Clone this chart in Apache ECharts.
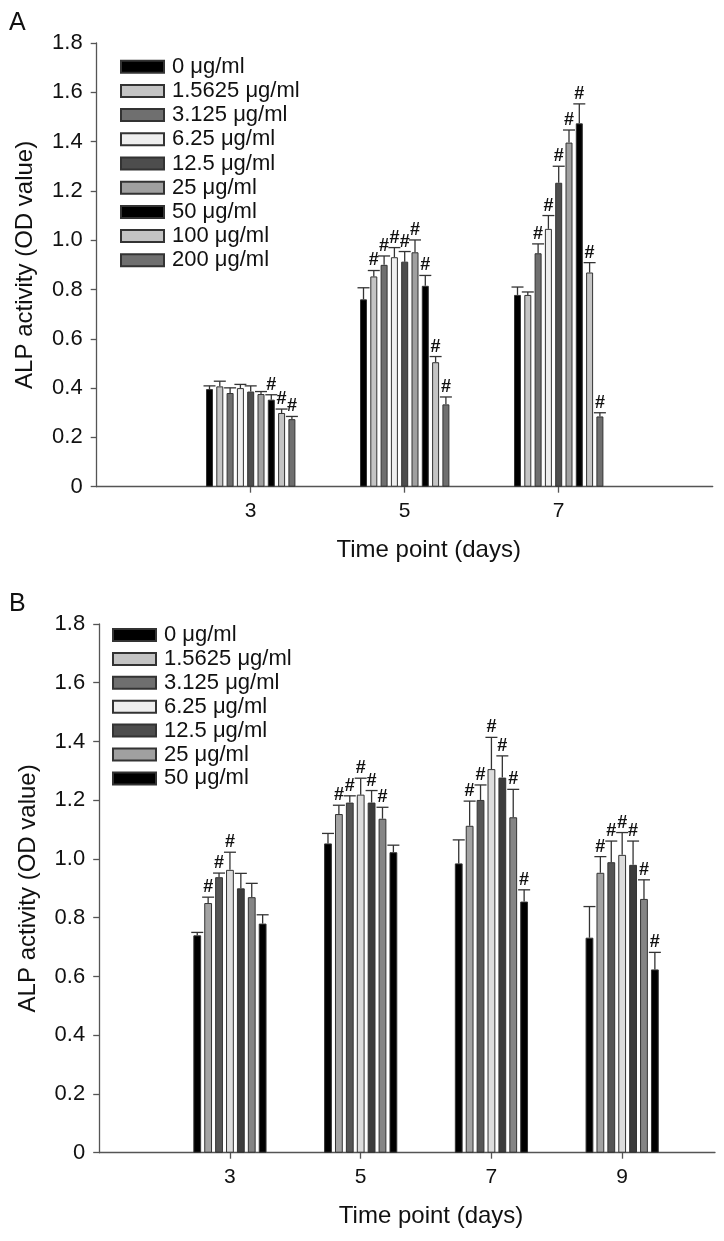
<!DOCTYPE html>
<html><head><meta charset="utf-8">
<script src="https://cdn.jsdelivr.net/npm/echarts@6/dist/echarts.min.js"></script>
<style>html,body{margin:0;padding:0;background:#fff}#c{width:724px;height:1241px}</style>
</head><body><div id="c"></div>
<script>
// ---------- Panel A ----------
const daysA = [3, 5, 7];
const concA = ['0 μg/ml','1.5625 μg/ml','3.125 μg/ml','6.25 μg/ml','12.5 μg/ml','25 μg/ml','50 μg/ml','100 μg/ml','200 μg/ml'];
const meanA = [
  [0.396, 0.760, 0.778],
  [0.407, 0.853, 0.778],
  [0.380, 0.900, 0.947],
  [0.400, 0.931, 1.046],
  [0.386, 0.913, 1.233],
  [0.376, 0.951, 1.396],
  [0.353, 0.815, 1.474],
  [0.299, 0.505, 0.869],
  [0.274, 0.334, 0.285]
];
const errA = [
  [0.013, 0.047, 0.032],
  [0.021, 0.024, 0.012],
  [0.021, 0.036, 0.038],
  [0.015, 0.039, 0.054],
  [0.023, 0.041, 0.067],
  [0.010, 0.050, 0.051],
  [0.020, 0.042, 0.079],
  [0.016, 0.023, 0.040],
  [0.011, 0.030, 0.015]
];
const sigA = [
  [0,0,0],[0,1,0],[0,1,1],[0,1,1],[0,1,1],[0,1,1],[1,1,1],[1,1,1],[1,1,1]
];
const colorsA = ['#000000','#c4c4c4','#6f6f6f','#eeeeee','#4d4d4d','#a0a0a0','#000000','#c4c4c4','#6f6f6f'];

// ---------- Panel B ----------
const daysB = [3, 5, 7, 9];
const concB = ['0 μg/ml','1.5625 μg/ml','3.125 μg/ml','6.25 μg/ml','12.5 μg/ml','25 μg/ml','50 μg/ml'];
const meanB = [
  [0.740, 1.053, 0.985, 0.732],
  [0.850, 1.153, 1.113, 0.953],
  [0.938, 1.192, 1.201, 0.989],
  [0.963, 1.219, 1.306, 1.014],
  [0.900, 1.192, 1.277, 0.980],
  [0.870, 1.137, 1.142, 0.864],
  [0.780, 1.023, 0.855, 0.624]
];
const errB = [
  [0.010, 0.034, 0.080, 0.106],
  [0.020, 0.030, 0.084, 0.055],
  [0.014, 0.023, 0.051, 0.072],
  [0.060, 0.056, 0.108, 0.076],
  [0.051, 0.041, 0.074, 0.081],
  [0.047, 0.039, 0.095, 0.065],
  [0.030, 0.024, 0.040, 0.058]
];
const sigB = [
  [0,0,0,0],[1,1,1,1],[1,1,1,1],[1,1,1,1],[0,1,1,1],[0,1,1,1],[0,0,1,1]
];
const colorsB = ['#000000','#a3a3a3','#555555','#dcdcdc','#3c3c3c','#858585','#000000'];

const yTitle = 'ALP activity (OD value)';
const xTitle = 'Time point (days)';

const FONT = '"Liberation Sans", Arial, sans-serif';
const AXC = '#555';

function panelSeries(idx, days, conc, mean, err, sig, colors, barW, gapPx) {
  const out = [];
  const gapPct = (gapPx / barW * 100) + '%';
  conc.forEach((name, i) => {
    out.push({
      type: 'bar', name, xAxisIndex: idx, yAxisIndex: idx,
      barWidth: barW, barGap: gapPct, animation: false,
      itemStyle: { color: colors[i], borderColor: '#333', borderWidth: 1 },
      emphasis: { disabled: true },
      data: days.map((d, j) => [d, mean[i][j]])
    });
  });
  const items = [];
  conc.forEach((name, i) => days.forEach((d, j) => items.push([d, mean[i][j], err[i][j], sig[i][j], i])));
  const n = conc.length;
  out.push({
    type: 'custom', xAxisIndex: idx, yAxisIndex: idx, z: 5, animation: false,
    data: items, encode: { x: 0, y: 1 },
    renderItem(params, api) {
      const d = api.value(0), m = api.value(1), e = api.value(2), s = api.value(3), i = api.value(4);
      const c = api.coord([d, m]);
      const t = api.coord([d, m + e]);
      const total = n * barW + (n - 1) * gapPx;
      const x = c[0] - total / 2 + barW / 2 + i * (barW + gapPx);
      const children = [
        { type: 'line', shape: { x1: x, y1: c[1], x2: x, y2: t[1] }, style: { stroke: '#333', lineWidth: 1.3 } },
        { type: 'line', shape: { x1: x - 6, y1: t[1], x2: x + 6, y2: t[1] }, style: { stroke: '#333', lineWidth: 1.3 } }
      ];
      if (s) children.push({ type: 'text', x: x, y: t[1] - 1,
        style: { text: '#', fill: '#111', font: 'bold 18px "Liberation Sans", Arial', align: 'center', verticalAlign: 'bottom' } });
      return { type: 'group', children };
    }
  });
  return out;
}

function xAxisCfg(idx, max, ticks) {
  return {
    type: 'value', gridIndex: idx, min: 1, max: max,
    name: xTitle, nameLocation: 'middle', nameGap: 52,
    nameTextStyle: { fontSize: 24, fontFamily: FONT, color: '#111', padding: [0, 0, 0, 48] },
    axisLine: { show: true, lineStyle: { color: AXC, width: 1.3 } },
    axisTick: { show: true, length: 6, customValues: ticks, lineStyle: { color: AXC, width: 1.3 } },
    axisLabel: { customValues: ticks, margin: 14, fontSize: 21, fontFamily: FONT, color: '#111' },
    splitLine: { show: false }
  };
}
function yAxisCfg(idx) {
  return {
    type: 'value', gridIndex: idx, min: 0, max: 1.8, interval: 0.2,
    name: yTitle, nameLocation: 'middle', nameGap: 59, nameRotate: 90,
    nameTextStyle: { fontSize: 24, fontFamily: FONT, color: '#111' },
    axisLine: { show: true, lineStyle: { color: AXC, width: 1.3 } },
    axisTick: { show: true, length: 6, lineStyle: { color: AXC, width: 1.3 } },
    axisLabel: { margin: 14, fontSize: 22, fontFamily: FONT, color: '#111',
      formatter: v => (v === 0 ? '0' : v.toFixed(1)) },
    splitLine: { show: false }
  };
}

const option = {
  backgroundColor: '#fff',
  animation: false,
  grid: [
    { left: 96.7, top: 43, width: 616, height: 443.7 },
    { left: 99.2, top: 624, width: 615.8, height: 528.7 }
  ],
  xAxis: [xAxisCfg(0, 9, daysA), xAxisCfg(1, 10.42, daysB)],
  yAxis: [yAxisCfg(0), yAxisCfg(1)],
  legend: [
    { data: concA, orient: 'vertical', left: 115, top: 50.7, icon: 'rect',
      itemWidth: 43, itemHeight: 12, itemGap: 2.2, selectedMode: false,
      textStyle: { fontSize: 22, lineHeight: 22, fontFamily: FONT, color: '#111', padding: [0, 0, 0, 3] } },
    { data: concB, orient: 'vertical', left: 107, top: 619, icon: 'rect',
      itemWidth: 43, itemHeight: 12, itemGap: 1.9, selectedMode: false,
      textStyle: { fontSize: 22, lineHeight: 22, fontFamily: FONT, color: '#111', padding: [0, 0, 0, 3] } }
  ],
  graphic: [
    { type: 'text', left: 9, top: 11, style: { text: 'A', font: '25px "Liberation Sans", Arial', fill: '#111' } },
    { type: 'text', left: 9, top: 592, style: { text: 'B', font: '25px "Liberation Sans", Arial', fill: '#111' } }
  ],
  series: [
    ...panelSeries(0, daysA, concA, meanA, errA, sigA, colorsA, 7, 3.3),
    ...panelSeries(1, daysB, concB, meanB, errB, sigB, colorsB, 7.8, 3.1)
  ]
};

const chart = echarts.init(document.getElementById('c'));
chart.setOption(option);
</script>
</body></html>
